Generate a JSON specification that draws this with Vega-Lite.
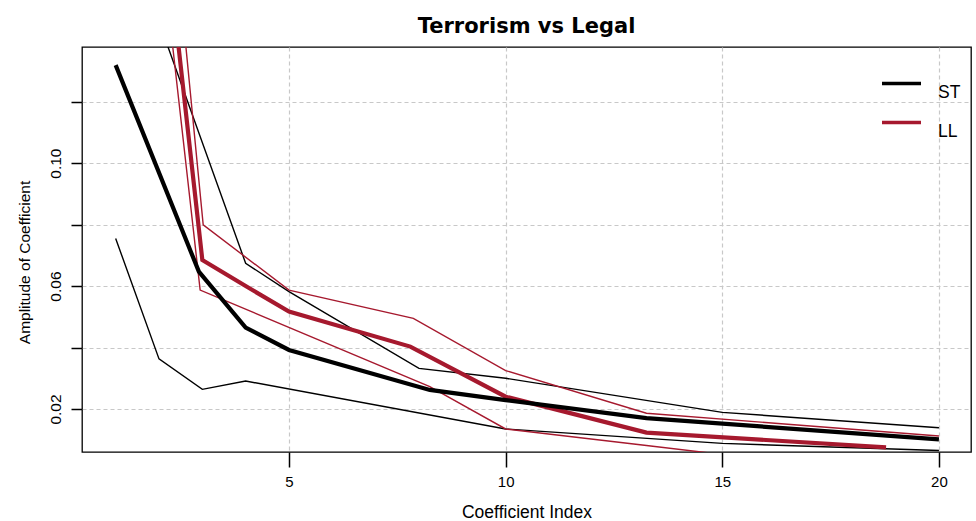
{
  "$schema": "https://vega.github.io/schema/vega-lite/v6.json",
  "width": 889,
  "height": 405,
  "autosize": {"type": "none"},
  "padding": {"left": 82, "top": 47, "right": 5, "bottom": 69},
  "title": {"text": "Terrorism vs Legal", "font": "DejaVu Sans", "fontSize": 21, "fontWeight": "bold", "color": "black", "anchor": "middle", "offset": 10},
  "config": {
    "font": "Liberation Sans",
    "view": {"stroke": "black", "strokeWidth": 1.3},
    "axis": {"domain": false, "gridColor": "#c8c8c8", "gridDash": [4, 3], "gridWidth": 1.2, "tickColor": "black", "tickWidth": 1.5, "labelColor": "black", "titleColor": "black", "labelFont": "Liberation Sans", "titleFont": "Liberation Sans", "titleFontWeight": "normal"}
  },
  "data": {"values": [
    {"series": "ST_lo", "group": "ST", "kind": "band", "x": 1, "y": 0.0755},
    {"series": "ST_lo", "group": "ST", "kind": "band", "x": 2, "y": 0.0363},
    {"series": "ST_lo", "group": "ST", "kind": "band", "x": 3, "y": 0.0264},
    {"series": "ST_lo", "group": "ST", "kind": "band", "x": 4, "y": 0.0291},
    {"series": "ST_lo", "group": "ST", "kind": "band", "x": 10, "y": 0.0135},
    {"series": "ST_lo", "group": "ST", "kind": "band", "x": 15, "y": 0.0088},
    {"series": "ST_lo", "group": "ST", "kind": "band", "x": 20, "y": 0.0065},
    {"series": "ST_hi", "group": "ST", "kind": "band", "x": 1, "y": 0.19},
    {"series": "ST_hi", "group": "ST", "kind": "band", "x": 2, "y": 0.146},
    {"series": "ST_hi", "group": "ST", "kind": "band", "x": 4, "y": 0.0674},
    {"series": "ST_hi", "group": "ST", "kind": "band", "x": 5, "y": 0.0582},
    {"series": "ST_hi", "group": "ST", "kind": "band", "x": 8, "y": 0.0332},
    {"series": "ST_hi", "group": "ST", "kind": "band", "x": 10, "y": 0.03},
    {"series": "ST_hi", "group": "ST", "kind": "band", "x": 15, "y": 0.0189},
    {"series": "ST_hi", "group": "ST", "kind": "band", "x": 20, "y": 0.0139},
    {"series": "LL_lo", "group": "LL", "kind": "band", "x": 2, "y": 0.1775},
    {"series": "LL_lo", "group": "LL", "kind": "band", "x": 2.95, "y": 0.0587},
    {"series": "LL_lo", "group": "LL", "kind": "band", "x": 8.25, "y": 0.0273},
    {"series": "LL_lo", "group": "LL", "kind": "band", "x": 10, "y": 0.0135},
    {"series": "LL_lo", "group": "LL", "kind": "band", "x": 13.25, "y": 0.0081},
    {"series": "LL_lo", "group": "LL", "kind": "band", "x": 15, "y": 0.0052},
    {"series": "LL_lo", "group": "LL", "kind": "band", "x": 18.78, "y": 0.001},
    {"series": "LL_hi", "group": "LL", "kind": "band", "x": 2, "y": 0.228},
    {"series": "LL_hi", "group": "LL", "kind": "band", "x": 3.02, "y": 0.0799},
    {"series": "LL_hi", "group": "LL", "kind": "band", "x": 5, "y": 0.0587},
    {"series": "LL_hi", "group": "LL", "kind": "band", "x": 7.87, "y": 0.0495},
    {"series": "LL_hi", "group": "LL", "kind": "band", "x": 10, "y": 0.0325},
    {"series": "LL_hi", "group": "LL", "kind": "band", "x": 13.25, "y": 0.0186},
    {"series": "LL_hi", "group": "LL", "kind": "band", "x": 20, "y": 0.0112},
    {"series": "LL_mean", "group": "LL", "kind": "mean", "x": 2, "y": 0.195},
    {"series": "LL_mean", "group": "LL", "kind": "mean", "x": 3, "y": 0.0685},
    {"series": "LL_mean", "group": "LL", "kind": "mean", "x": 4, "y": 0.06},
    {"series": "LL_mean", "group": "LL", "kind": "mean", "x": 5, "y": 0.0517},
    {"series": "LL_mean", "group": "LL", "kind": "mean", "x": 7.8, "y": 0.0403},
    {"series": "LL_mean", "group": "LL", "kind": "mean", "x": 10, "y": 0.024},
    {"series": "LL_mean", "group": "LL", "kind": "mean", "x": 13.25, "y": 0.0123},
    {"series": "LL_mean", "group": "LL", "kind": "mean", "x": 18.78, "y": 0.0075},
    {"series": "ST_mean", "group": "ST", "kind": "mean", "x": 1, "y": 0.1319},
    {"series": "ST_mean", "group": "ST", "kind": "mean", "x": 2.92, "y": 0.0647},
    {"series": "ST_mean", "group": "ST", "kind": "mean", "x": 4, "y": 0.0465},
    {"series": "ST_mean", "group": "ST", "kind": "mean", "x": 5, "y": 0.0392},
    {"series": "ST_mean", "group": "ST", "kind": "mean", "x": 8.25, "y": 0.0262},
    {"series": "ST_mean", "group": "ST", "kind": "mean", "x": 10, "y": 0.0229},
    {"series": "ST_mean", "group": "ST", "kind": "mean", "x": 13.25, "y": 0.017},
    {"series": "ST_mean", "group": "ST", "kind": "mean", "x": 20, "y": 0.0101}
  ]},
  "encoding": {
    "x": {"field": "x", "type": "quantitative",
      "scale": {"domain": [0.223, 20.74], "nice": false, "zero": false},
      "axis": {"values": [5, 10, 15, 20], "title": "Coefficient Index", "tickSize": 15, "labelFontSize": 15, "labelPadding": 7, "labelFlush": false, "titleFontSize": 17.5, "titleBaseline": "middle", "titleY": 60}},
    "y": {"field": "y", "type": "quantitative",
      "scale": {"domain": [0.006, 0.1378], "nice": false, "zero": false},
      "axis": {"values": [0.02, 0.04, 0.06, 0.08, 0.1, 0.12], "title": "Amplitude of Coefficient", "tickSize": 11, "labelFontSize": 15.5, "labelAngle": -90, "labelAlign": "center", "labelBaseline": "middle", "labelPadding": 16, "labelFlush": false,
        "labelExpr": "(round(datum.value*100) % 4 == 2) ? format(datum.value, '.2f') : ''",
        "titleFontSize": 15.5, "titleAngle": -90, "titleAlign": "center", "titleBaseline": "middle", "titleX": -58, "titleY": 215}},
    "color": {"field": "group", "type": "nominal",
      "scale": {"domain": ["ST", "LL"], "range": ["#000000", "#A6192E"]},
      "legend": {"orient": "none", "legendX": 798, "legendY": 15, "title": null, "symbolType": "stroke", "symbolSize": 1521, "symbolStrokeWidth": 3.5, "labelFontSize": 17.5, "labelOffset": 15, "labelBaseline": "top", "rowPadding": 0, "padding": 0, "labelColor": "black", "labelFont": "Liberation Sans"}},
    "detail": {"field": "series"}
  },
  "layer": [
    {"transform": [{"filter": "datum.kind == 'band'"}], "mark": {"type": "line", "clip": true, "strokeWidth": 1.4}},
    {"transform": [{"filter": "datum.series == 'LL_mean'"}], "mark": {"type": "line", "clip": true, "strokeWidth": 4.2}},
    {"transform": [{"filter": "datum.series == 'ST_mean'"}], "mark": {"type": "line", "clip": true, "strokeWidth": 4.2}}
  ]
}
